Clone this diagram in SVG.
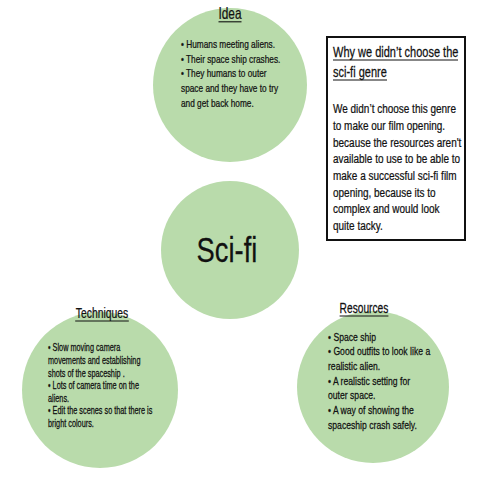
<svg xmlns="http://www.w3.org/2000/svg" width="480" height="480" viewBox="0 0 480 480">
<style>
  .node { fill: #b9dbab; }
  text { font-family: "Liberation Sans", Arial, sans-serif; fill: #111; stroke: #111; stroke-width: 0.25; }
  .ul { stroke: #111; stroke-width: 1.1; }
</style>
<rect x="0" y="0" width="480" height="480" fill="#ffffff"/>
<g id="connectors"/>

<g id="idea">
  <circle class="node" cx="230" cy="85" r="77"/>
  <g transform="translate(230,0) scale(0.74,1)">
    <text x="0" y="19" font-size="16" text-anchor="middle">Idea</text>
  </g>
  <line class="ul" x1="218.5" y1="21.8" x2="241.5" y2="21.8"/>
  <g transform="translate(181,0) scale(0.74,1)" font-size="11.2">
    <text x="0" y="47.8">• Humans meeting aliens.</text>
    <text x="0" y="62.8">• Their space ship crashes.</text>
    <text x="0" y="77.5">• They humans to outer</text>
    <text x="0" y="92.5">space and they have to try</text>
    <text x="0" y="107.5">and get back home.</text>
  </g>
</g>

<g id="scifi">
  <circle class="node" cx="230" cy="250" r="69"/>
  <g transform="translate(227,0) scale(0.76,1)">
    <text x="0" y="262" font-size="36" text-anchor="middle">Sci-fi</text>
  </g>
</g>

<g id="techniques">
  <circle class="node" cx="100" cy="390" r="78"/>
  <g transform="translate(102,0) scale(0.74,1)">
    <text x="0" y="318" font-size="14" text-anchor="middle">Techniques</text>
  </g>
  <line class="ul" x1="75.2" y1="321" x2="128.8" y2="321"/>
  <g transform="translate(48,0) scale(0.73,1)" font-size="10">
    <text x="0" y="351.5">• Slow moving camera</text>
    <text x="0" y="364.1">movements and establishing</text>
    <text x="0" y="376.7">shots of the spaceship .</text>
    <text x="0" y="389.3">• Lots of camera time on the</text>
    <text x="0" y="401.9">aliens.</text>
    <text x="0" y="414.5">• Edit the scenes so that there is</text>
    <text x="0" y="427.1">bright colours.</text>
  </g>
</g>

<g id="resources">
  <circle class="node" cx="373" cy="387" r="76"/>
  <g transform="translate(364,0) scale(0.73,1)">
    <text x="0" y="313" font-size="14" text-anchor="middle">Resources</text>
  </g>
  <line class="ul" x1="339.6" y1="316" x2="388.4" y2="316"/>
  <g transform="translate(328,0) scale(0.75,1)" font-size="11.5">
    <text x="0" y="340.7">• Space ship</text>
    <text x="0" y="355.4">• Good outfits to look like a</text>
    <text x="0" y="370">realistic alien.</text>
    <text x="0" y="384.7">• A realistic setting for</text>
    <text x="0" y="399.4">outer space.</text>
    <text x="0" y="414">• A way of showing the</text>
    <text x="0" y="428.7">spaceship crash safely.</text>
  </g>
</g>

<g id="why-not">
  <rect x="327" y="37" width="138" height="203" fill="#ffffff" stroke="#111" stroke-width="2"/>
  <g transform="translate(333,0) scale(0.76,1)" font-size="14.5">
    <text x="0" y="57">Why we didn’t choose the</text>
    <text x="0" y="77">sci-fi genre</text>
  </g>
  <line class="ul" x1="333" y1="60" x2="458" y2="60"/>
  <line class="ul" x1="333" y1="80" x2="387" y2="80"/>
  <g transform="translate(333,0) scale(0.74,1)" font-size="13.5">
    <text x="0" y="113.5">We didn’t choose this genre</text>
    <text x="0" y="130.1">to make our film opening.</text>
    <text x="0" y="146.8">because the resources aren't</text>
    <text x="0" y="163.4">available to use to be able to</text>
    <text x="0" y="180.1">make a successful sci-fi film</text>
    <text x="0" y="196.7">opening, because its to</text>
    <text x="0" y="213.4">complex and would look</text>
    <text x="0" y="230">quite tacky.</text>
  </g>
</g>
</svg>
